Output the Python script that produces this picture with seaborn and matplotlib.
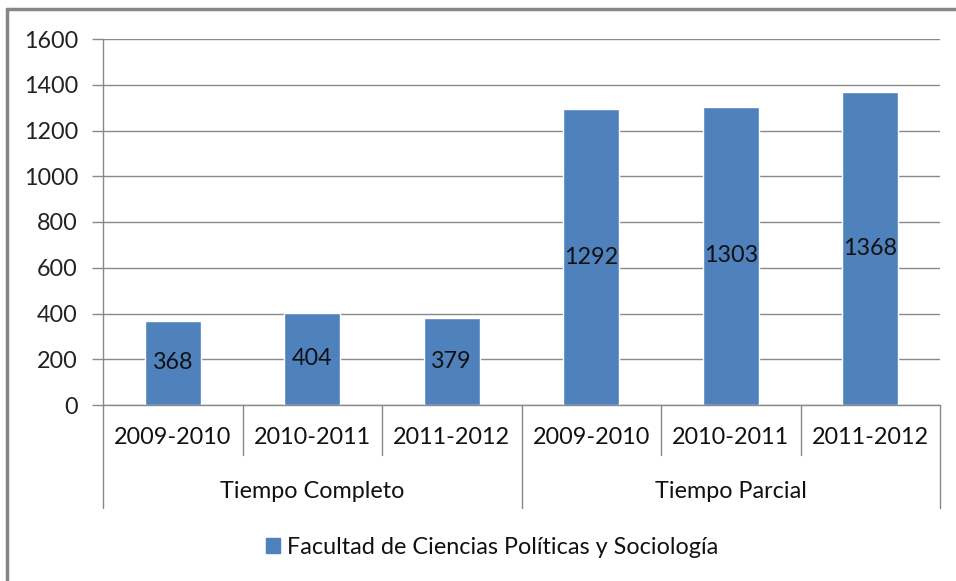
import matplotlib
matplotlib.use("Agg")
import matplotlib.pyplot as plt
import seaborn as sns
import pandas as pd
from matplotlib.patches import Rectangle, Patch
from matplotlib.lines import Line2D

groups = ["Tiempo Completo", "Tiempo Completo", "Tiempo Completo",
          "Tiempo Parcial", "Tiempo Parcial", "Tiempo Parcial"]
years = ["2009-2010", "2010-2011", "2011-2012",
         "2009-2010", "2010-2011", "2011-2012"]
values = [368, 404, 379, 1292, 1303, 1368]
series_name = "Facultad de Ciencias Políticas y Sociología"
yticks = [0, 200, 400, 600, 800, 1000, 1200, 1400, 1600]

sns.set_style("white")
plt.rcParams['font.family'] = ['Lato', 'DejaVu Sans']

BLUE = "#4F81BD"
GRID = "#898989"
FS = 16.8

df = pd.DataFrame({"key": [f"{g}|{y}" for g, y in zip(groups, years)],
                   "year": years, "group": groups, "value": values})

fig = plt.figure(figsize=(9.56, 5.81), dpi=100)
W, H = 956, 581
ax = fig.add_axes([103 / W, (H - 405) / H, (940 - 103) / W, (405 - 39) / H])

sns.barplot(data=df, x="key", y="value", color=BLUE, width=0.4,
            saturation=1, ax=ax, order=list(df["key"]))

ax.set_ylim(0, 1600)
ax.set_xlim(-0.5, len(values) - 0.5)
ax.set_yticks(yticks)
ax.set_yticklabels([str(t) for t in yticks], fontsize=FS, color="#222222")
ax.tick_params(axis="y", length=8, width=1, color=GRID, pad=10, left=True)
ax.set_xticks([])
ax.set_xlabel("")
ax.set_ylabel("")
ax.yaxis.grid(True, color=GRID, lw=1)
ax.set_axisbelow(True)
for s in ["top", "right"]:
    ax.spines[s].set_visible(False)
ax.spines["left"].set_color(GRID)
ax.spines["bottom"].set_color(GRID)
ax.spines["left"].set_linewidth(1)
ax.spines["bottom"].set_linewidth(1)

for c in ax.containers:
    ax.bar_label(c, labels=[str(v) for v in values], label_type="center",
                 fontsize=FS, color="#111111")

# multi-level category axis
n = len(values)
tr = ax.get_xaxis_transform()
ax_h = (405 - 39)

def yax(py):
    return (405 - py) / ax_h

for i in range(n + 1):
    x = i - 0.5
    y_end = yax(508) if i in (0, 3, 6) else yax(455)
    ax.add_line(Line2D([x, x], [0, y_end], transform=tr, color=GRID, lw=1, clip_on=False))

for i, yr in enumerate(years):
    ax.text(i, yax(438), yr, transform=tr, ha="center", va="center",
            fontsize=FS, color="#111111")

uniq = []
for g in groups:
    if g not in uniq:
        uniq.append(g)
for g in uniq:
    idx = [i for i, gg in enumerate(groups) if gg == g]
    ax.text(sum(idx) / len(idx), yax(491), g, transform=tr, ha="center",
            va="center", fontsize=FS, color="#111111")

# legend
handles = [Patch(facecolor=BLUE, edgecolor=BLUE, label=series_name)]
fig.legend(handles=handles, loc="center", bbox_to_anchor=(492 / W, 1 - 547 / H),
           frameon=False, fontsize=FS, handlelength=0.6, handleheight=0.6,
           handletextpad=0.3, labelcolor="#111111")

# outer border (only left and top visible, frame runs off the image)
fig.add_artist(Line2D([7 / W, 7 / W], [0, 1 - 9 / H], transform=fig.transFigure,
                      color="#868686", lw=2.5))
fig.add_artist(Line2D([7 / W, 1], [1 - 9 / H, 1 - 9 / H], transform=fig.transFigure,
                      color="#868686", lw=2.5))

fig.savefig("out.png", dpi=100)
